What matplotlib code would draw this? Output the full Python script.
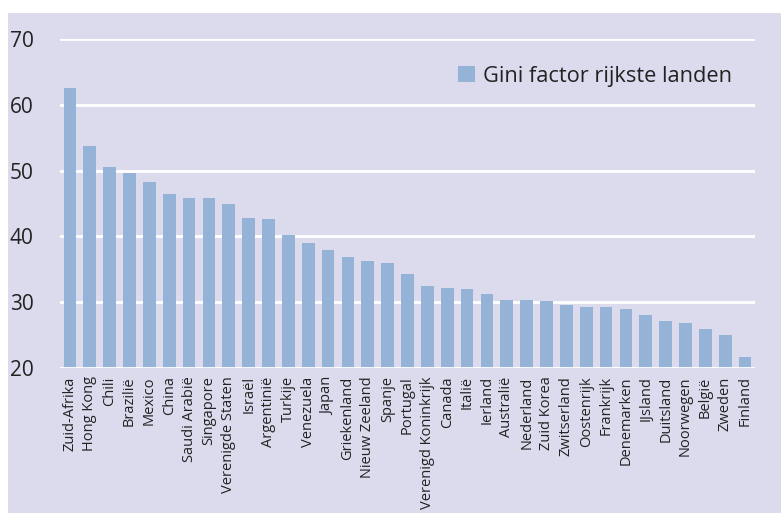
import matplotlib.pyplot as plt
from matplotlib.patches import Rectangle

landen = ["Zuid-Afrika", "Hong Kong", "Chili", "Brazilië", "Mexico", "China",
          "Saudi Arabië", "Singapore", "Verenigde Staten", "Israël", "Argentinië",
          "Turkije", "Venezuela", "Japan", "Griekenland", "Nieuw Zeeland", "Spanje",
          "Portugal", "Verenigd Koninkrijk", "Canada", "Italië", "Ierland",
          "Australië", "Nederland", "Zuid Korea", "Zwitserland", "Oostenrijk",
          "Frankrijk", "Denemarken", "IJsland", "Duitsland", "Noorwegen", "België",
          "Zweden", "Finland"]
gini = [62.5, 53.7, 50.5, 49.7, 48.2, 46.5, 45.9, 45.8, 45.0, 42.8, 42.7,
        40.2, 39.0, 38.0, 36.8, 36.2, 35.9, 34.3, 32.5, 32.2, 32.0, 31.3,
        30.3, 30.3, 30.2, 29.6, 29.3, 29.3, 28.9, 28.1, 27.2, 26.9, 25.9,
        25.0, 21.7]
yticks = [20, 30, 40, 50, 60, 70]

bg = "#DCDBEE"
bar_color = "#95B3D7"
W, H = 781, 513

plt.rcParams["font.family"] = ["Open Sans", "DejaVu Sans"]

fig = plt.figure(figsize=(W / 100, H / 100), dpi=100)
fig.patch.set_facecolor("white")
fig.patches.append(Rectangle((8 / W, 0), 1, (H - 13) / H, transform=fig.transFigure,
                             facecolor=bg, edgecolor="none", zorder=-10))

ax = fig.add_axes([60 / W, 1 - 368 / H, (755 - 60) / W, (368 - 39) / H])
ax.set_facecolor(bg)

x = range(len(landen))
ax.bar(x, [v - 20 for v in gini], bottom=20, width=0.64, color=bar_color,
       label="Gini factor rijkste landen", zorder=2)

ax.set_xlim(-0.5, len(landen) - 0.5)
ax.set_ylim(20, 70)
ax.set_yticks(yticks)
ax.set_yticklabels([str(t) for t in yticks], fontsize=15, color="#222222")
ax.set_xticks(list(x))
ax.set_xticklabels(landen, rotation=90, fontsize=10.5, color="#222222")
ax.tick_params(axis="y", length=0, pad=19)
ax.tick_params(axis="x", length=0, pad=6)
ax.grid(axis="y", color="white", linewidth=2, zorder=1)
ax.set_axisbelow(True)
for s in ax.spines.values():
    s.set_visible(False)
ax.axhline(20, color="white", linewidth=2, zorder=3)

leg = ax.legend(loc="upper right", bbox_to_anchor=(752 / W, 1 - 46 / H),
                bbox_transform=fig.transFigure, frameon=False, fontsize=15.7,
                handlelength=0.75, handleheight=0.75, handletextpad=0.4)
for t in leg.get_texts():
    t.set_color("#222222")

fig.savefig("out.png", dpi=100, facecolor=fig.get_facecolor())
